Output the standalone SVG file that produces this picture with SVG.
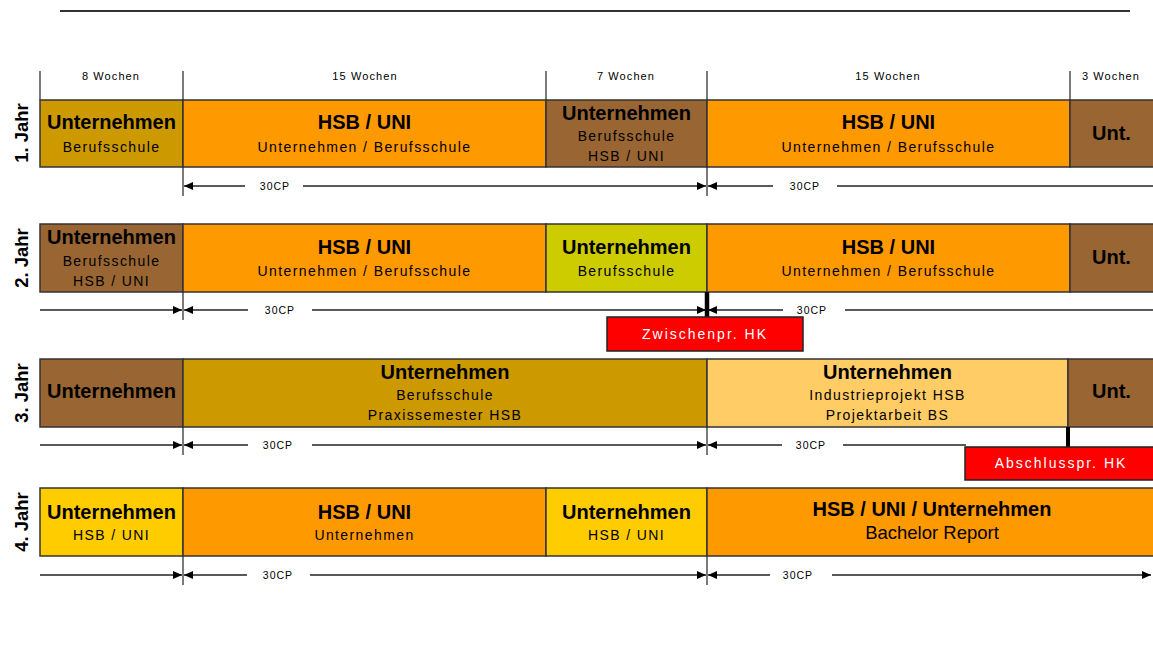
<svg xmlns="http://www.w3.org/2000/svg" width="1153" height="661" viewBox="0 0 1153 661">
<style>
.box{stroke:#333;stroke-width:1.5}
.c-gold{fill:#CC9900}.c-or{fill:#FF9900}.c-br{fill:#996633}.c-ol{fill:#CCCC00}.c-lt{fill:#FFCC66}.c-ye{fill:#FFCC00}
.t{font-family:"Liberation Sans",Arial,sans-serif;text-anchor:middle;fill:#000}
.b{font-size:20px;font-weight:bold}
.s{font-size:14px;letter-spacing:1.4px}
.w{font-size:11px;letter-spacing:1.1px}
.cp{font-size:10.5px;letter-spacing:1px}
.yr{font-size:18.5px;font-weight:bold}
.tick{stroke:#333;stroke-width:1.3}
.dim{stroke:#222;stroke-width:1.3;fill:none}
.red{fill:#FF0000;stroke:#222;stroke-width:1.5}
.rt{font-family:"Liberation Sans",Arial,sans-serif;text-anchor:middle;fill:#fff;font-size:14px;letter-spacing:2px}
</style>
<defs>
<marker id="ah" markerUnits="userSpaceOnUse" markerWidth="10" markerHeight="9" refX="9" refY="4" orient="auto">
<path d="M0,0 L9,4 L0,8 z" fill="#000"/>
</marker>
</defs>
<rect width="1153" height="661" fill="#fff"/>
<line x1="60" y1="11" x2="1130" y2="11" stroke="#333" stroke-width="2"/>

<!-- week labels and top ticks -->
<g id="weeks">
<line class="tick" x1="40" y1="71" x2="40" y2="100"/>
<line class="tick" x1="183" y1="71" x2="183" y2="100"/>
<line class="tick" x1="546" y1="71" x2="546" y2="100"/>
<line class="tick" x1="707" y1="71" x2="707" y2="100"/>
<line class="tick" x1="1070" y1="71" x2="1070" y2="100"/>
<text class="t w" x="111" y="80">8 Wochen</text>
<text class="t w" x="365" y="80">15 Wochen</text>
<text class="t w" x="626" y="80">7 Wochen</text>
<text class="t w" x="888" y="80">15 Wochen</text>
<text class="t w" x="1111" y="80">3 Wochen</text>
</g>

<!-- year labels -->
<g id="years">
<text class="t yr" x="28" y="133" transform="rotate(-90 28 133)">1. Jahr</text>
<text class="t yr" x="28" y="258" transform="rotate(-90 28 258)">2. Jahr</text>
<text class="t yr" x="28" y="393" transform="rotate(-90 28 393)">3. Jahr</text>
<text class="t yr" x="28" y="522" transform="rotate(-90 28 522)">4. Jahr</text>
</g>

<!-- Row 1 -->
<g id="r1b1"><rect class="box c-gold" x="40" y="100" width="143" height="67"/>
<text class="t b" x="111.5" y="129">Unternehmen</text><text class="t s" x="111.5" y="152">Berufsschule</text></g>
<g id="r1b2"><rect class="box c-or" x="183" y="100" width="363" height="67"/>
<text class="t b" x="364.5" y="129">HSB / UNI</text><text class="t s" x="364.5" y="152">Unternehmen / Berufsschule</text></g>
<g id="r1b3"><rect class="box c-br" x="546" y="100" width="161" height="67"/>
<text class="t b" x="626.5" y="120">Unternehmen</text><text class="t s" x="626.5" y="141">Berufsschule</text><text class="t s" x="626.5" y="161">HSB / UNI</text></g>
<g id="r1b4"><rect class="box c-or" x="707" y="100" width="363" height="67"/>
<text class="t b" x="888.5" y="129">HSB / UNI</text><text class="t s" x="888.5" y="152">Unternehmen / Berufsschule</text></g>
<g id="r1b5"><rect class="box c-br" x="1070" y="100" width="90" height="67"/>
<text class="t b" x="1111.5" y="140">Unt.</text></g>

<!-- Row 2 -->
<g id="r2b1"><rect class="box c-br" x="40" y="224" width="143" height="68"/>
<text class="t b" x="111.5" y="244">Unternehmen</text><text class="t s" x="111.5" y="266">Berufsschule</text><text class="t s" x="111.5" y="286">HSB / UNI</text></g>
<g id="r2b2"><rect class="box c-or" x="183" y="224" width="363" height="68"/>
<text class="t b" x="364.5" y="254">HSB / UNI</text><text class="t s" x="364.5" y="276">Unternehmen / Berufsschule</text></g>
<g id="r2b3"><rect class="box c-ol" x="546" y="224" width="161" height="68"/>
<text class="t b" x="626.5" y="254">Unternehmen</text><text class="t s" x="626.5" y="276">Berufsschule</text></g>
<g id="r2b4"><rect class="box c-or" x="707" y="224" width="363" height="68"/>
<text class="t b" x="888.5" y="254">HSB / UNI</text><text class="t s" x="888.5" y="276">Unternehmen / Berufsschule</text></g>
<g id="r2b5"><rect class="box c-br" x="1070" y="224" width="90" height="68"/>
<text class="t b" x="1111.5" y="264">Unt.</text></g>

<!-- Row 3 -->
<g id="r3b1"><rect class="box c-br" x="40" y="359" width="143" height="68"/>
<text class="t b" x="111.5" y="398">Unternehmen</text></g>
<g id="r3b2"><rect class="box c-gold" x="183" y="359" width="524" height="68"/>
<text class="t b" x="445" y="379">Unternehmen</text><text class="t s" x="445" y="400">Berufsschule</text><text class="t s" x="445" y="420">Praxissemester HSB</text></g>
<g id="r3b3"><rect class="box c-lt" x="707" y="359" width="361" height="68"/>
<text class="t b" x="887.5" y="379">Unternehmen</text><text class="t s" x="887.5" y="400">Industrieprojekt HSB</text><text class="t s" x="887.5" y="420">Projektarbeit BS</text></g>
<g id="r3b4"><rect class="box c-br" x="1068" y="359" width="92" height="68"/>
<text class="t b" x="1111.5" y="398">Unt.</text></g>

<!-- Row 4 -->
<g id="r4b1"><rect class="box c-ye" x="40" y="488" width="143" height="68"/>
<text class="t b" x="111.5" y="519">Unternehmen</text><text class="t s" x="111.5" y="540">HSB / UNI</text></g>
<g id="r4b2"><rect class="box c-or" x="183" y="488" width="363" height="68"/>
<text class="t b" x="364.5" y="519">HSB / UNI</text><text class="t s" x="364.5" y="540">Unternehmen</text></g>
<g id="r4b3"><rect class="box c-ye" x="546" y="488" width="161" height="68"/>
<text class="t b" x="626.5" y="519">Unternehmen</text><text class="t s" x="626.5" y="540">HSB / UNI</text></g>
<g id="r4b4"><rect class="box c-or" x="707" y="488" width="453" height="68"/>
<text class="t b" x="932" y="516">HSB / UNI / Unternehmen</text><text class="t" x="932" y="539" style="font-size:18.5px">Bachelor Report</text></g>

<!-- connectors / dimension lines -->
<g id="connectors">
<line class="tick" x1="183" y1="167" x2="183" y2="196"/>
<line class="tick" x1="707" y1="167" x2="707" y2="196"/>
<line class="dim" x1="245" y1="186" x2="184" y2="186" marker-end="url(#ah)"/>
<line class="dim" x1="303" y1="186" x2="706" y2="186" marker-end="url(#ah)"/>
<line class="dim" x1="773" y1="186" x2="708" y2="186" marker-end="url(#ah)"/>
<line class="dim" x1="837" y1="186" x2="1153" y2="186"/>

<line class="tick" x1="183" y1="292" x2="183" y2="320"/>
<line class="dim" x1="40" y1="310" x2="182" y2="310" marker-end="url(#ah)"/>
<line class="dim" x1="248" y1="310" x2="184" y2="310" marker-end="url(#ah)"/>
<line class="dim" x1="312" y1="310" x2="706" y2="310" marker-end="url(#ah)"/>
<line class="dim" x1="783" y1="310" x2="708" y2="310" marker-end="url(#ah)"/>
<line class="dim" x1="845" y1="310" x2="1153" y2="310"/>
<line x1="707" y1="292" x2="707" y2="318" stroke="#000" stroke-width="4.5"/>

<line class="tick" x1="183" y1="427" x2="183" y2="455"/>
<line class="tick" x1="707" y1="427" x2="707" y2="455"/>
<line class="dim" x1="40" y1="445" x2="182" y2="445" marker-end="url(#ah)"/>
<line class="dim" x1="248" y1="445" x2="184" y2="445" marker-end="url(#ah)"/>
<line class="dim" x1="312" y1="445" x2="706" y2="445" marker-end="url(#ah)"/>
<line class="dim" x1="782" y1="445" x2="708" y2="445" marker-end="url(#ah)"/>
<line class="dim" x1="843" y1="445" x2="966" y2="445"/>
<line x1="1068" y1="427" x2="1068" y2="448" stroke="#000" stroke-width="4"/>

<line class="tick" x1="183" y1="556" x2="183" y2="585"/>
<line class="tick" x1="707" y1="556" x2="707" y2="585"/>
<line class="dim" x1="40" y1="575" x2="182" y2="575" marker-end="url(#ah)"/>
<line class="dim" x1="247" y1="575" x2="184" y2="575" marker-end="url(#ah)"/>
<line class="dim" x1="310" y1="575" x2="706" y2="575" marker-end="url(#ah)"/>
<line class="dim" x1="770" y1="575" x2="708" y2="575" marker-end="url(#ah)"/>
<line class="dim" x1="832" y1="575" x2="1151" y2="575" marker-end="url(#ah)"/>

<text class="t cp" x="275" y="190">30CP</text>
<text class="t cp" x="805" y="190">30CP</text>
<text class="t cp" x="280" y="314">30CP</text>
<text class="t cp" x="812" y="314">30CP</text>
<text class="t cp" x="278" y="449">30CP</text>
<text class="t cp" x="811" y="449">30CP</text>
<text class="t cp" x="278" y="579">30CP</text>
<text class="t cp" x="798" y="579">30CP</text>
</g>

<g id="zwischen"><rect class="red" x="607" y="317" width="196" height="34"/>
<text class="rt" x="705" y="339">Zwischenpr. HK</text></g>
<g id="abschluss"><rect class="red" x="965" y="447" width="195" height="33"/>
<text class="rt" x="1061" y="468">Abschlusspr. HK</text></g>
</svg>
